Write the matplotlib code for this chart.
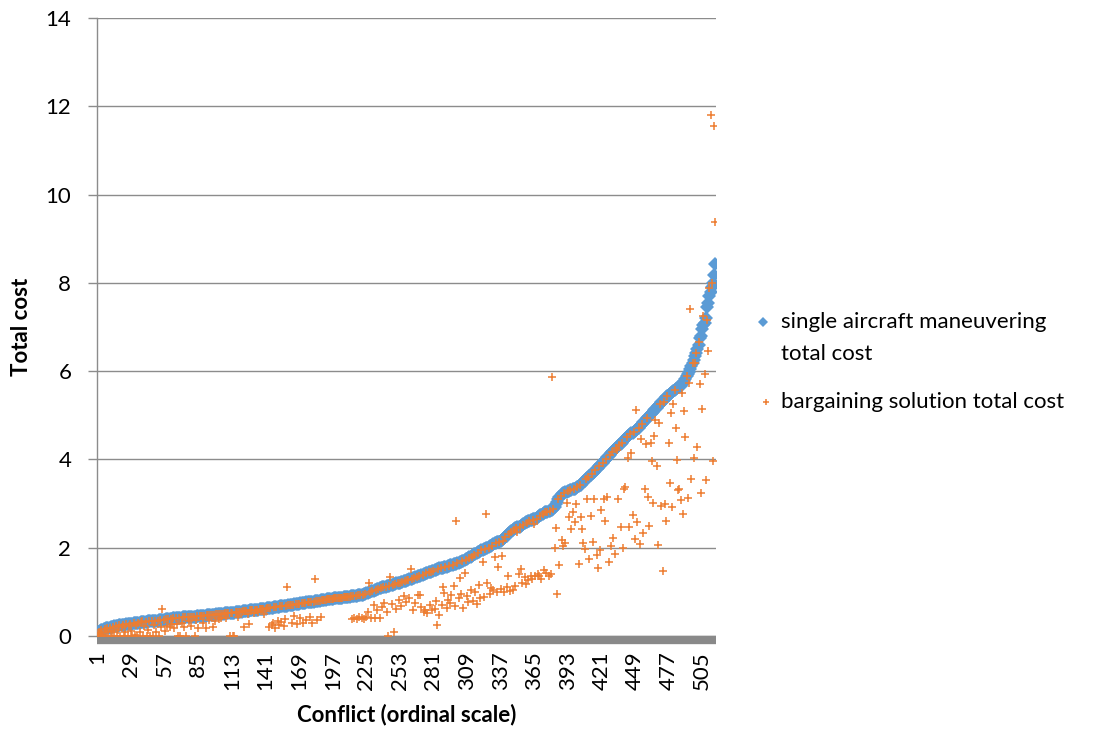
import matplotlib.pyplot as plt
import numpy as np
from matplotlib.lines import Line2D

plt.rcParams["font.family"] = ["Lato", "DejaVu Sans"]

# single aircraft maneuvering total cost, sorted by conflict (20 per row)
single_cost = [
    0.08, 0.10, 0.12, 0.13, 0.14, 0.15, 0.16, 0.17, 0.18, 0.19, 0.19, 0.20, 0.21, 0.21, 0.22, 0.22, 0.23, 0.23, 0.24, 0.24,
    0.25, 0.25, 0.26, 0.26, 0.27, 0.27, 0.27, 0.28, 0.28, 0.28, 0.29, 0.29, 0.29, 0.30, 0.30, 0.30, 0.31, 0.31, 0.31, 0.32,
    0.32, 0.32, 0.33, 0.33, 0.33, 0.34, 0.34, 0.34, 0.35, 0.35, 0.35, 0.36, 0.36, 0.36, 0.37, 0.37, 0.37, 0.38, 0.38, 0.38,
    0.39, 0.39, 0.39, 0.40, 0.40, 0.40, 0.40, 0.41, 0.41, 0.41, 0.41, 0.42, 0.42, 0.42, 0.42, 0.43, 0.43, 0.43, 0.43, 0.44,
    0.44, 0.44, 0.44, 0.45, 0.45, 0.45, 0.45, 0.46, 0.46, 0.46, 0.46, 0.47, 0.47, 0.47, 0.47, 0.48, 0.48, 0.48, 0.48, 0.49,
    0.49, 0.49, 0.50, 0.50, 0.50, 0.50, 0.51, 0.51, 0.51, 0.52, 0.52, 0.52, 0.53, 0.53, 0.53, 0.54, 0.54, 0.54, 0.55, 0.55,
    0.55, 0.56, 0.56, 0.56, 0.57, 0.57, 0.57, 0.58, 0.58, 0.59, 0.59, 0.59, 0.60, 0.60, 0.60, 0.61, 0.61, 0.61, 0.62, 0.62,
    0.62, 0.63, 0.63, 0.63, 0.64, 0.64, 0.64, 0.65, 0.65, 0.66, 0.66, 0.66, 0.67, 0.67, 0.68, 0.68, 0.68, 0.69, 0.69, 0.70,
    0.70, 0.70, 0.71, 0.71, 0.72, 0.72, 0.72, 0.73, 0.73, 0.74, 0.74, 0.74, 0.75, 0.75, 0.76, 0.76, 0.76, 0.77, 0.77, 0.78,
    0.78, 0.79, 0.79, 0.79, 0.80, 0.80, 0.81, 0.81, 0.81, 0.82, 0.82, 0.83, 0.83, 0.83, 0.84, 0.84, 0.84, 0.85, 0.85, 0.86,
    0.86, 0.86, 0.87, 0.87, 0.87, 0.88, 0.88, 0.88, 0.89, 0.89, 0.89, 0.90, 0.90, 0.90, 0.91, 0.91, 0.91, 0.92, 0.92, 0.93,
    0.93, 0.94, 0.95, 0.96, 0.97, 0.98, 0.99, 1.00, 1.01, 1.02, 1.03, 1.04, 1.05, 1.06, 1.07, 1.08, 1.09, 1.10, 1.10, 1.11,
    1.12, 1.13, 1.13, 1.14, 1.15, 1.16, 1.16, 1.17, 1.18, 1.19, 1.20, 1.20, 1.21, 1.22, 1.23, 1.24, 1.25, 1.25, 1.26, 1.27,
    1.28, 1.29, 1.30, 1.31, 1.32, 1.33, 1.34, 1.35, 1.36, 1.37, 1.38, 1.39, 1.40, 1.41, 1.42, 1.43, 1.44, 1.45, 1.46, 1.47,
    1.48, 1.49, 1.50, 1.51, 1.52, 1.53, 1.54, 1.54, 1.55, 1.56, 1.57, 1.57, 1.58, 1.59, 1.60, 1.60, 1.61, 1.62, 1.63, 1.64,
    1.65, 1.66, 1.67, 1.68, 1.70, 1.71, 1.72, 1.74, 1.75, 1.77, 1.78, 1.80, 1.81, 1.83, 1.85, 1.86, 1.88, 1.90, 1.91, 1.93,
    1.94, 1.95, 1.96, 1.97, 1.99, 2.00, 2.02, 2.03, 2.05, 2.07, 2.09, 2.10, 2.11, 2.12, 2.13, 2.14, 2.15, 2.17, 2.19, 2.21,
    2.24, 2.27, 2.30, 2.33, 2.36, 2.38, 2.40, 2.42, 2.44, 2.45, 2.46, 2.47, 2.48, 2.50, 2.52, 2.54, 2.56, 2.58, 2.59, 2.60,
    2.61, 2.62, 2.63, 2.64, 2.65, 2.66, 2.67, 2.69, 2.71, 2.73, 2.75, 2.77, 2.79, 2.80, 2.81, 2.82, 2.83, 2.84, 2.85, 2.86,
    2.88, 2.92, 2.98, 3.04, 3.10, 3.14, 3.18, 3.21, 3.23, 3.25, 3.26, 3.27, 3.28, 3.29, 3.30, 3.31, 3.32, 3.33, 3.34, 3.35,
    3.37, 3.39, 3.41, 3.43, 3.46, 3.49, 3.52, 3.55, 3.58, 3.61, 3.63, 3.65, 3.67, 3.69, 3.72, 3.75, 3.78, 3.81, 3.84, 3.87,
    3.90, 3.93, 3.96, 3.99, 4.02, 4.05, 4.08, 4.11, 4.14, 4.17, 4.20, 4.23, 4.26, 4.29, 4.31, 4.33, 4.35, 4.38, 4.41, 4.44,
    4.47, 4.50, 4.53, 4.55, 4.57, 4.59, 4.61, 4.63, 4.65, 4.67, 4.69, 4.72, 4.75, 4.78, 4.81, 4.84, 4.87, 4.90, 4.93, 4.96,
    4.99, 5.02, 5.05, 5.08, 5.11, 5.14, 5.17, 5.20, 5.23, 5.26, 5.29, 5.32, 5.35, 5.38, 5.41, 5.44, 5.47, 5.49, 5.51, 5.53,
    5.55, 5.57, 5.59, 5.61, 5.63, 5.65, 5.67, 5.70, 5.74, 5.78, 5.83, 5.88, 5.93, 5.98, 6.05, 6.12, 6.18, 6.26, 6.34, 6.42,
    6.50, 6.60, 6.75, 6.80, 6.95, 7.05, 7.10, 7.20, 7.45, 7.55, 7.70, 7.80, 7.90, 8.00, 8.18, 8.43,
]

# bargaining solution total cost, same conflict order
bargain_cost = [
    0.00, 0.10, 0.05, 0.13, 0.02, 0.00, 0.16, 0.10, 0.18, 0.01, 0.19, 0.12, 0.00, 0.21, 0.08, 0.22, 0.00, 0.14, 0.24, 0.01,
    0.20, 0.25, 0.00, 0.10, 0.27, 0.01, 0.22, 0.28, 0.12, 0.00, 0.29, 0.02, 0.24, 0.00, 0.30, 0.09, 0.31, 0.35, 0.00, 0.22,
    0.32, 0.00, 0.13, 0.33, 0.01, 0.34, 0.00, 0.24, 0.35, 0.10, 0.35, 0.00, 0.36, 0.20, 0.62, 0.37, 0.12, 0.38, 0.23, 0.38,
    0.20, 0.39, 0.27, 0.40, 0.18, 0.40, 0.28, 0.00, 0.41, 0.01, 0.30, 0.42, 0.21, 0.42, 0.00, 0.43, 0.33, 0.43, 0.22, 0.44,
    0.44, 0.00, 0.36, 0.45, 0.19, 0.45, 0.45, 0.46, 0.30, 0.46, 0.19, 0.47, 0.47, 0.37, 0.47, 0.48, 0.20, 0.48, 0.35, 0.49,
    0.49, 0.38, 0.50, 0.41, 0.50, 0.50, 0.51, 0.40, 0.51, 0.52, 0.00, 0.52, 0.53, 0.01, 0.00, 0.54, 0.54, 0.42, 0.55, 0.55,
    0.55, 0.56, 0.21, 0.56, 0.57, 0.50, 0.27, 0.58, 0.58, 0.59, 0.52, 0.59, 0.60, 0.60, 0.55, 0.61, 0.61, 0.61, 0.62, 0.50,
    0.62, 0.63, 0.63, 0.20, 0.64, 0.26, 0.30, 0.65, 0.18, 0.66, 0.35, 0.24, 0.67, 0.32, 0.68, 0.22, 0.38, 0.69, 1.10, 0.70,
    0.70, 0.70, 0.30, 0.71, 0.45, 0.72, 0.28, 0.73, 0.73, 0.40, 0.74, 0.29, 0.75, 0.75, 0.36, 0.76, 0.76, 0.44, 0.77, 0.30,
    0.78, 1.29, 0.79, 0.36, 0.80, 0.80, 0.42, 0.81, 0.81, 0.82, 0.82, 0.83, 0.83, 0.83, 0.84, 0.84, 0.84, 0.85, 0.85, 0.86,
    0.86, 0.86, 0.87, 0.87, 0.87, 0.88, 0.88, 0.88, 0.89, 0.89, 0.89, 0.90, 0.38, 0.90, 0.40, 0.91, 0.39, 0.92, 0.42, 0.93,
    0.40, 0.94, 0.38, 0.96, 0.43, 0.55, 1.19, 1.00, 0.41, 1.02, 0.70, 0.40, 1.05, 0.60, 1.07, 0.41, 1.09, 0.65, 1.10, 0.75,
    1.12, 0.55, 0.00, 1.14, 1.33, 0.72, 1.16, 0.10, 1.18, 0.62, 1.20, 0.82, 1.21, 0.68, 1.23, 0.90, 1.25, 0.78, 1.26, 1.27,
    0.85, 1.51, 1.30, 0.60, 1.32, 0.75, 1.34, 0.93, 1.36, 0.93, 0.66, 1.39, 0.55, 0.59, 1.42, 0.51, 1.44, 0.70, 1.46, 0.58,
    1.48, 0.62, 0.80, 0.25, 1.52, 0.48, 1.54, 0.70, 1.12, 0.98, 1.56, 0.63, 0.82, 1.58, 0.75, 0.93, 1.60, 1.13, 0.68, 2.61,
    1.65, 0.85, 1.31, 0.95, 1.70, 0.63, 1.42, 1.72, 0.90, 0.78, 1.77, 1.05, 1.80, 0.80, 1.83, 1.00, 0.72, 1.88, 1.16, 0.86,
    1.94, 1.67, 0.88, 1.97, 2.76, 1.19, 2.00, 0.95, 1.08, 2.05, 1.05, 1.80, 2.10, 1.00, 1.57, 2.12, 1.06, 1.82, 2.15, 1.00,
    2.24, 1.10, 1.36, 2.30, 1.02, 2.36, 1.05, 2.40, 1.13, 2.44, 2.36, 1.40, 2.47, 1.52, 1.20, 2.52, 1.33, 1.18, 2.56, 1.27,
    2.61, 1.36, 1.30, 2.63, 2.53, 1.36, 2.66, 1.40, 1.35, 2.71, 1.28, 2.77, 1.50, 2.80, 1.43, 2.81, 1.37, 2.83, 1.40, 5.87,
    2.88, 1.99, 2.44, 0.95, 3.10, 1.61, 3.18, 2.17, 2.03, 3.25, 2.10, 3.02, 3.28, 2.70, 3.30, 2.42, 2.82, 3.33, 2.59, 2.99,
    3.37, 1.62, 3.41, 2.70, 2.42, 2.10, 1.98, 3.55, 3.10, 3.61, 1.74, 2.72, 3.67, 2.13, 3.10, 3.75, 1.83, 1.55, 3.84, 1.95,
    2.85, 3.93, 3.10, 2.60, 4.02, 3.14, 1.68, 4.11, 2.04, 4.17, 2.22, 1.86, 4.26, 4.21, 3.10, 4.33, 2.46, 4.38, 2.00, 3.32,
    3.38, 4.50, 4.03, 2.47, 4.57, 4.15, 2.74, 4.63, 2.19, 5.12, 2.59, 4.72, 2.08, 4.46, 4.81, 2.34, 3.32, 4.35, 4.93, 3.16,
    2.49, 4.37, 3.97, 3.01, 4.52, 4.89, 3.84, 2.06, 4.82, 5.26, 2.95, 1.47, 5.29, 3.00, 2.61, 5.44, 4.37, 3.46, 5.06, 2.92,
    5.25, 5.57, 4.72, 3.99, 3.30, 3.34, 3.08, 5.50, 2.76, 5.10, 4.50, 5.88, 3.12, 5.74, 7.41, 3.55, 6.18, 4.04, 6.19, 6.42,
    4.29, 6.67, 5.70, 3.24, 5.14, 7.25, 5.93, 3.53, 7.16, 6.46, 7.88, 11.80, 8.00, 3.96, 11.55, 9.37,
]

y_ticks = [0, 2, 4, 6, 8, 10, 12, 14]
x_tick_step = 28

blue = "#5B9BD5"
orange = "#ED7D31"
grid_gray = "#8C8C8C"

fig = plt.figure(figsize=(11.04, 7.33), dpi=100)
ax = fig.add_axes([97 / 1104, 1 - 636 / 733, (716 - 97) / 1104, (636 - 18) / 733])

# spine position first: moving a spine resets the tick settings
for side in ["top", "right"]:
    ax.spines[side].set_visible(False)
ax.spines["bottom"].set_position(("outward", 3))
ax.spines["bottom"].set_color("#898989")
ax.spines["bottom"].set_linewidth(6)
ax.spines["bottom"].set_capstyle("butt")
ax.spines["left"].set_color(grid_gray)
ax.spines["left"].set_linewidth(1.0)

x_single = np.arange(1, len(single_cost) + 1)
x_bargain = np.arange(1, len(bargain_cost) + 1)
n = max(len(single_cost), len(bargain_cost))

ax.plot(x_single, single_cost, linestyle="none", marker="D", markersize=7,
        color=blue, markeredgewidth=0, zorder=3)
ax.plot(x_bargain, bargain_cost, linestyle="none", marker="+", markersize=5.5,
        markeredgewidth=1.1, color=orange, zorder=4)

ax.set_xlim(0.5, n + 0.5)
ax.set_ylim(0, 14)
ax.set_yticks(y_ticks)
ax.set_yticklabels([str(t) for t in y_ticks])
xt = np.arange(1, n + 1, x_tick_step)
ax.set_xticks(xt)
ax.set_xticklabels([str(t) for t in xt])

ax.grid(axis="y", color=grid_gray, linewidth=1.0)
ax.set_axisbelow(True)

ax.tick_params(axis="y", length=6.5, width=1.0, color=grid_gray, labelsize=16, pad=12)
ax.tick_params(axis="x", length=0, labelsize=16, pad=8, labelrotation=90)

ax.set_xlabel("Conflict (ordinal scale)", fontsize=16, fontweight="bold", labelpad=10)
ax.set_ylabel("Total cost", fontsize=16, fontweight="bold", labelpad=10)

# legend drawn at the right of the plot area
fig.add_artist(Line2D([763 / 1104], [1 - 322 / 733], transform=fig.transFigure,
                      marker="D", markersize=5, color=blue, markeredgewidth=0))
fig.text(781 / 1104, 1 - 322 / 733, "single aircraft maneuvering", fontsize=16, va="center")
fig.text(781 / 1104, 1 - 354 / 733, "total cost", fontsize=16, va="center")
fig.add_artist(Line2D([766 / 1104], [1 - 402 / 733], transform=fig.transFigure,
                      marker="+", markersize=5, color=orange, markeredgewidth=1.1))
fig.text(781 / 1104, 1 - 402 / 733, "bargaining solution total cost", fontsize=16, va="center")

fig.savefig("out.png", dpi=100)
